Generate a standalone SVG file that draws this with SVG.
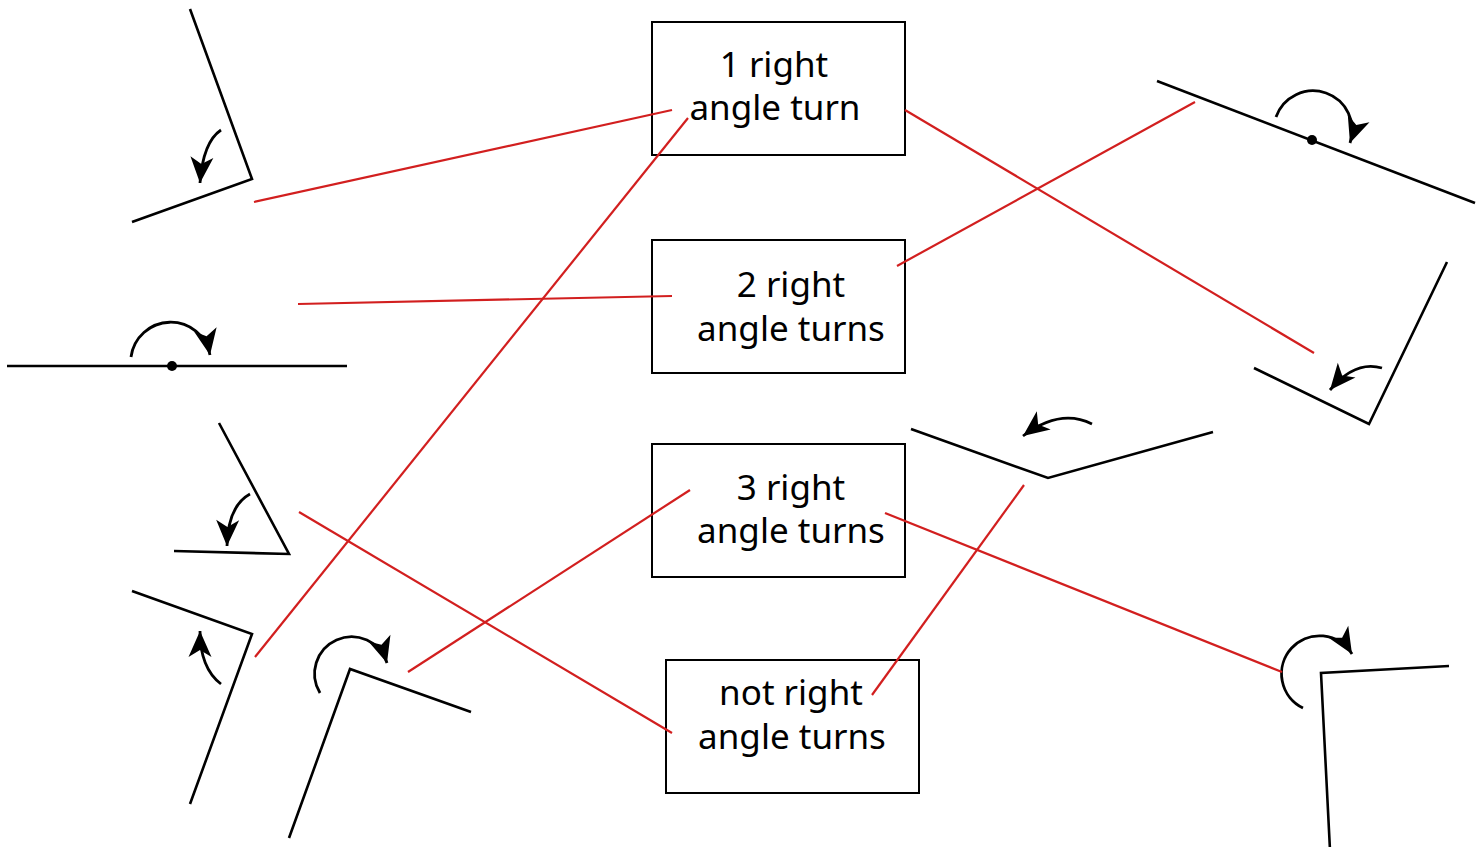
<svg xmlns="http://www.w3.org/2000/svg" width="1483" height="847" viewBox="0 0 1483 847">
<style>
.bg{fill:#fff}
.box{fill:#fff;stroke:#000;stroke-width:2}
.lbl{font-family:"Noto Sans","Liberation Sans",sans-serif;font-size:35px;fill:#000;text-anchor:middle}
.ang{fill:none;stroke:#000;stroke-width:2.6;stroke-linejoin:miter}
.turn{fill:none;stroke:#000;stroke-width:2.8;marker-end:url(#ah)}
.red{stroke:#d21f1f;stroke-width:2.2;fill:none}
</style>
<defs>
<marker id="ah" viewBox="-28 -13 30 26" refX="0" refY="0" markerWidth="30" markerHeight="26" markerUnits="userSpaceOnUse" orient="auto">
<path d="M0,0 L-26,-11.5 L-19,0 L-26,11.5 Z" fill="#000"/>
</marker>
</defs>
<rect class="bg" x="0" y="0" width="1483" height="847"/>

<g id="box1">
<rect class="box" x="652" y="22" width="253" height="133"/>
<text class="lbl" x="774" y="77">1 right</text>
<text class="lbl" x="775" y="120">angle turn</text>
</g>
<g id="box2">
<rect class="box" x="652" y="240" width="253" height="133"/>
<text class="lbl" x="791" y="297">2 right</text>
<text class="lbl" x="791" y="341">angle turns</text>
</g>
<g id="box3">
<rect class="box" x="652" y="444" width="253" height="133"/>
<text class="lbl" x="791" y="500">3 right</text>
<text class="lbl" x="791" y="543">angle turns</text>
</g>
<g id="box4">
<rect class="box" x="666" y="660" width="253" height="133"/>
<text class="lbl" x="791" y="705">not right</text>
<text class="lbl" x="792" y="749">angle turns</text>
</g>

<g id="angleA">
<polyline class="ang" points="190,9 252,179 132,222"/>
<path class="turn" d="M221,130 Q203,142 200,183"/>
</g>
<g id="angleB">
<line class="ang" x1="7" y1="366" x2="347" y2="366"/>
<circle cx="172" cy="366" r="5" fill="#000"/>
<path class="turn" d="M131,357 A40,40 0 0 1 210,355"/>
</g>
<g id="angleC">
<polyline class="ang" points="219,423 289,554 174,551"/>
<path class="turn" d="M250,494 Q228,506 227,546"/>
</g>
<g id="angleD">
<polyline class="ang" points="132,591 252,634 190,804"/>
<path class="turn" d="M221,684 Q200,668 200,631"/>
</g>
<g id="angleE">
<polyline class="ang" points="289,838 350,669 471,712"/>
<path class="turn" d="M320,693 A37,37 0 1 1 387,663"/>
</g>
<g id="angleF">
<line class="ang" x1="1157" y1="81" x2="1475" y2="203"/>
<circle cx="1312" cy="140" r="5" fill="#000"/>
<path class="turn" d="M1276,117 A38,38 0 1 1 1350,143"/>
</g>
<g id="angleG">
<polyline class="ang" points="1447,262 1369,424 1254,368"/>
<path class="turn" d="M1382,368 Q1355,360 1330,390"/>
</g>
<g id="angleH">
<polyline class="ang" points="911,429 1048,478 1213,432"/>
<path class="turn" d="M1092,424 Q1060,408 1023,436"/>
</g>
<g id="angleI">
<polyline class="ang" points="1330,850 1321,673 1449,666"/>
<path class="turn" d="M1303,708 A38,38 0 1 1 1352,654"/>
</g>

<g id="connectors">
<line class="red" x1="254" y1="202" x2="672" y2="110"/>
<line class="red" x1="688" y1="118" x2="255" y2="657"/>
<line class="red" x1="298" y1="304" x2="672" y2="296"/>
<line class="red" x1="905" y1="110" x2="1314" y2="353"/>
<line class="red" x1="897" y1="266" x2="1195" y2="102"/>
<line class="red" x1="690" y1="490" x2="408" y2="672"/>
<line class="red" x1="299" y1="512" x2="672" y2="733"/>
<line class="red" x1="885" y1="513" x2="1282" y2="672"/>
<line class="red" x1="1024" y1="485" x2="872" y2="695"/>
</g>
</svg>
